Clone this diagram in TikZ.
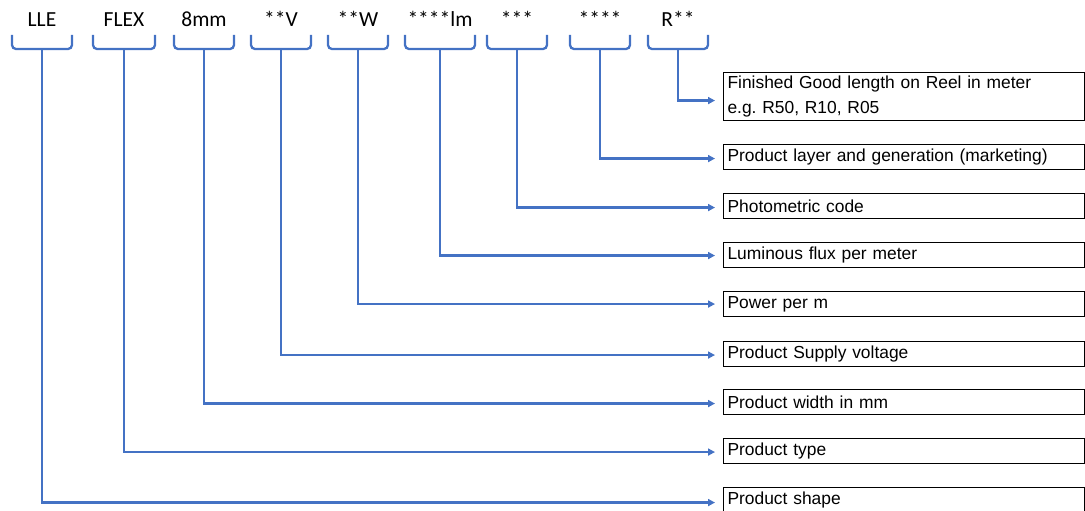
\documentclass[tikz,border=0pt]{standalone}
\usepackage{fontspec}
\setmainfont{Liberation Sans}
\newfontfamily\calib{Carlito}
\usetikzlibrary{arrows.meta}
\definecolor{lineblue}{HTML}{4472C4}
\frenchspacing
\begin{document}
\begin{tikzpicture}[x=1pt,y=-1pt,
  code/.style={font=\calib\fontsize{21.5}{24}\selectfont, anchor=base, inner sep=0pt},
  brace/.style={draw=lineblue, line width=2.3pt, rounded corners=4pt},
  conn/.style={draw=lineblue, line width=2.3pt, -{Triangle[length=7pt,width=7pt]}, shorten >=8pt},
  desc/.style={draw=black, line width=1.1pt, anchor=north west, minimum width=361pt,
    text width=353pt, inner xsep=4pt, inner ysep=0pt, align=left, minimum height=25pt,
    font=\fontsize{17.4}{25}\selectfont}]
\useasboundingbox (0,0) rectangle (1085,511);
\clip (0,0) rectangle (1085,511);

% codes
\node[code] (c1) at (42,27) {LLE};
\node[code] (c2) at (124,27) {FLEX};
\node[code] (c3) at (204,27) {8mm};
\node[code] (c4) at (281,27) {**V};
\node[code] (c5) at (358,27) {**W};
\node[code] (c6) at (440,27) {****lm};
\node[code] (c7) at (517,27) {***};
\node[code] (c8) at (600,27) {****};
\node[code] (c9) at (678,27) {R**};

% brackets
\foreach \cx/\hw/\n in {42/30/1,124/31/2,204/30/3,281/30/4,358/30/5,440/35/6,517/30/7,600/30/8,678/30/9}{
  \draw[brace] (\cx-\hw,35) |- (\cx,49) -| (\cx+\hw,35);
  \coordinate (t\n) at (\cx,49);
}

% description boxes
\node[desc, minimum height=48pt] (d1) at (723,72) {Finished Good length on Reel in meter\\e.g. R50, R10, R05};
\node[desc] (d2) at (723,144) {Product layer and generation (marketing)};
\node[desc] (d3) at (723,193) {Photometric code};
\node[desc] (d4) at (723,242) {Luminous flux per meter};
\node[desc] (d5) at (723,291) {Power per m};
\node[desc] (d6) at (723,341) {Product Supply voltage};
\node[desc] (d7) at (723,389) {Product width in mm};
\node[desc] (d8) at (723,438) {Product type};
\node[desc] (d9) at (723,487) {Product shape};

% connectors
\draw[conn] (t9) |- ([yshift=-4pt]d1.west);
\draw[conn] (t8) |- ([yshift=-1.5pt]d2.west);
\draw[conn] (t7) |- ([yshift=-1.5pt]d3.west);
\draw[conn] (t6) |- ([yshift=-0.5pt]d4.west);
\draw[conn] (t5) |- ([yshift=0pt]d5.west);
\draw[conn] (t4) |- ([yshift=-1pt]d6.west);
\draw[conn] (t3) |- ([yshift=-1.5pt]d7.west);
\draw[conn] (t2) |- ([yshift=-1pt]d8.west);
\draw[conn] (t1) |- ([yshift=-2.5pt]d9.west);
\end{tikzpicture}
\end{document}
